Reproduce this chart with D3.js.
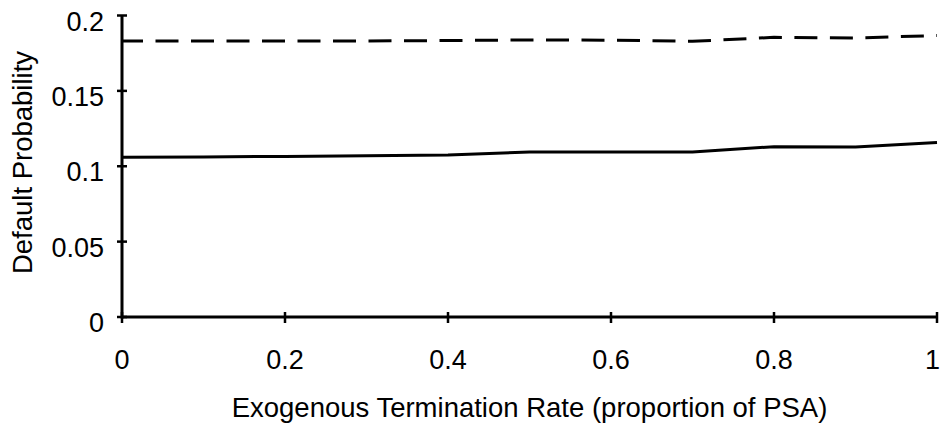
<!DOCTYPE html>
<html>
<head>
<meta charset="utf-8">
<script src="https://cdn.jsdelivr.net/npm/d3@7"></script>
<style>
  html, body { margin: 0; padding: 0; background: #fff; }
  svg { display: block; }
  text { font-family: "Liberation Sans", Arial, Helvetica, sans-serif; fill: #000; }
</style>
</head>
<body>
<svg id="chart" width="941" height="427"></svg>
<script>
// Data
const rates = [0, 0.1, 0.2, 0.3, 0.4, 0.5, 0.6, 0.7, 0.8, 0.9, 1.0];
const solidSeries = [0.1059, 0.1062, 0.1065, 0.1070, 0.1075, 0.1095, 0.1095, 0.1094, 0.1130, 0.1128, 0.1157];
const dashedSeries = [0.1831, 0.1831, 0.1831, 0.1831, 0.1834, 0.1838, 0.1836, 0.1829, 0.1855, 0.1851, 0.1867];
const xTicks = [0, 0.2, 0.4, 0.6, 0.8, 1];
const yTicks = [0, 0.05, 0.1, 0.15, 0.2];
const xTitle = "Exogenous Termination Rate (proportion of PSA)";
const yTitle = "Default Probability";

const W = 941;
const svg = d3.select("#chart");
const x = d3.scaleLinear().domain([0, 1]).range([122, 937]);
const y = d3.scaleLinear().domain([0, 0.2]).range([317, 15.5]);

const tickFont = 27;
const titleFont = 27.5;

const g = svg.append("g");
g.append("line").attr("x1", x(0)).attr("x2", x(1)).attr("y1", y(0)).attr("y2", y(0))
  .attr("stroke", "#000").attr("stroke-width", 3);
g.append("line").attr("x1", x(0)).attr("x2", x(0)).attr("y1", y(0) + 1.5).attr("y2", y(0.2))
  .attr("stroke", "#000").attr("stroke-width", 3);

// X ticks
g.selectAll(".xt").data(xTicks).enter().append("line")
  .attr("x1", d => x(d)).attr("x2", d => x(d))
  .attr("y1", y(0) - 5).attr("y2", y(0) + 6)
  .attr("stroke", "#000").attr("stroke-width", 2.5);
g.selectAll(".xl").data(xTicks).enter().append("text")
  .attr("y", 369)
  .attr("text-anchor", "middle").attr("font-size", tickFont)
  .text(d => d3.format("")(d))
  .each(function(d) {
    const w = this.getComputedTextLength();
    const cx = Math.min(x(d), W - 1 - w / 2);
    d3.select(this).attr("x", cx);
  });

// Y ticks
g.selectAll(".yt").data(yTicks).enter().append("line")
  .attr("x1", x(0) - 5).attr("x2", x(0) + 5)
  .attr("y1", d => y(d)).attr("y2", d => y(d))
  .attr("stroke", "#000").attr("stroke-width", 2.5);
g.selectAll(".yl").data(yTicks).enter().append("text")
  .attr("x", 104).attr("y", d => y(d) + 15)
  .attr("text-anchor", "end").attr("font-size", tickFont)
  .text(d => d3.format("")(d));

// Lines
const line = d3.line().x((d, i) => x(rates[i])).y(d => y(d));
svg.append("path").datum(solidSeries).attr("d", line)
  .attr("fill", "none").attr("stroke", "#000").attr("stroke-width", 3);
svg.append("path").datum(dashedSeries).attr("d", line)
  .attr("fill", "none").attr("stroke", "#000").attr("stroke-width", 3)
  .attr("stroke-dasharray", "23,12.5").attr("stroke-dashoffset", 2);

// Titles
svg.append("text").attr("x", (x(0) + x(1)) / 2).attr("y", 417)
  .attr("text-anchor", "middle").attr("font-size", titleFont).text(xTitle);
svg.append("text").attr("transform", "translate(31.5,162.5) rotate(-90)")
  .attr("text-anchor", "middle").attr("font-size", titleFont).text(yTitle);
</script>
</body>
</html>
